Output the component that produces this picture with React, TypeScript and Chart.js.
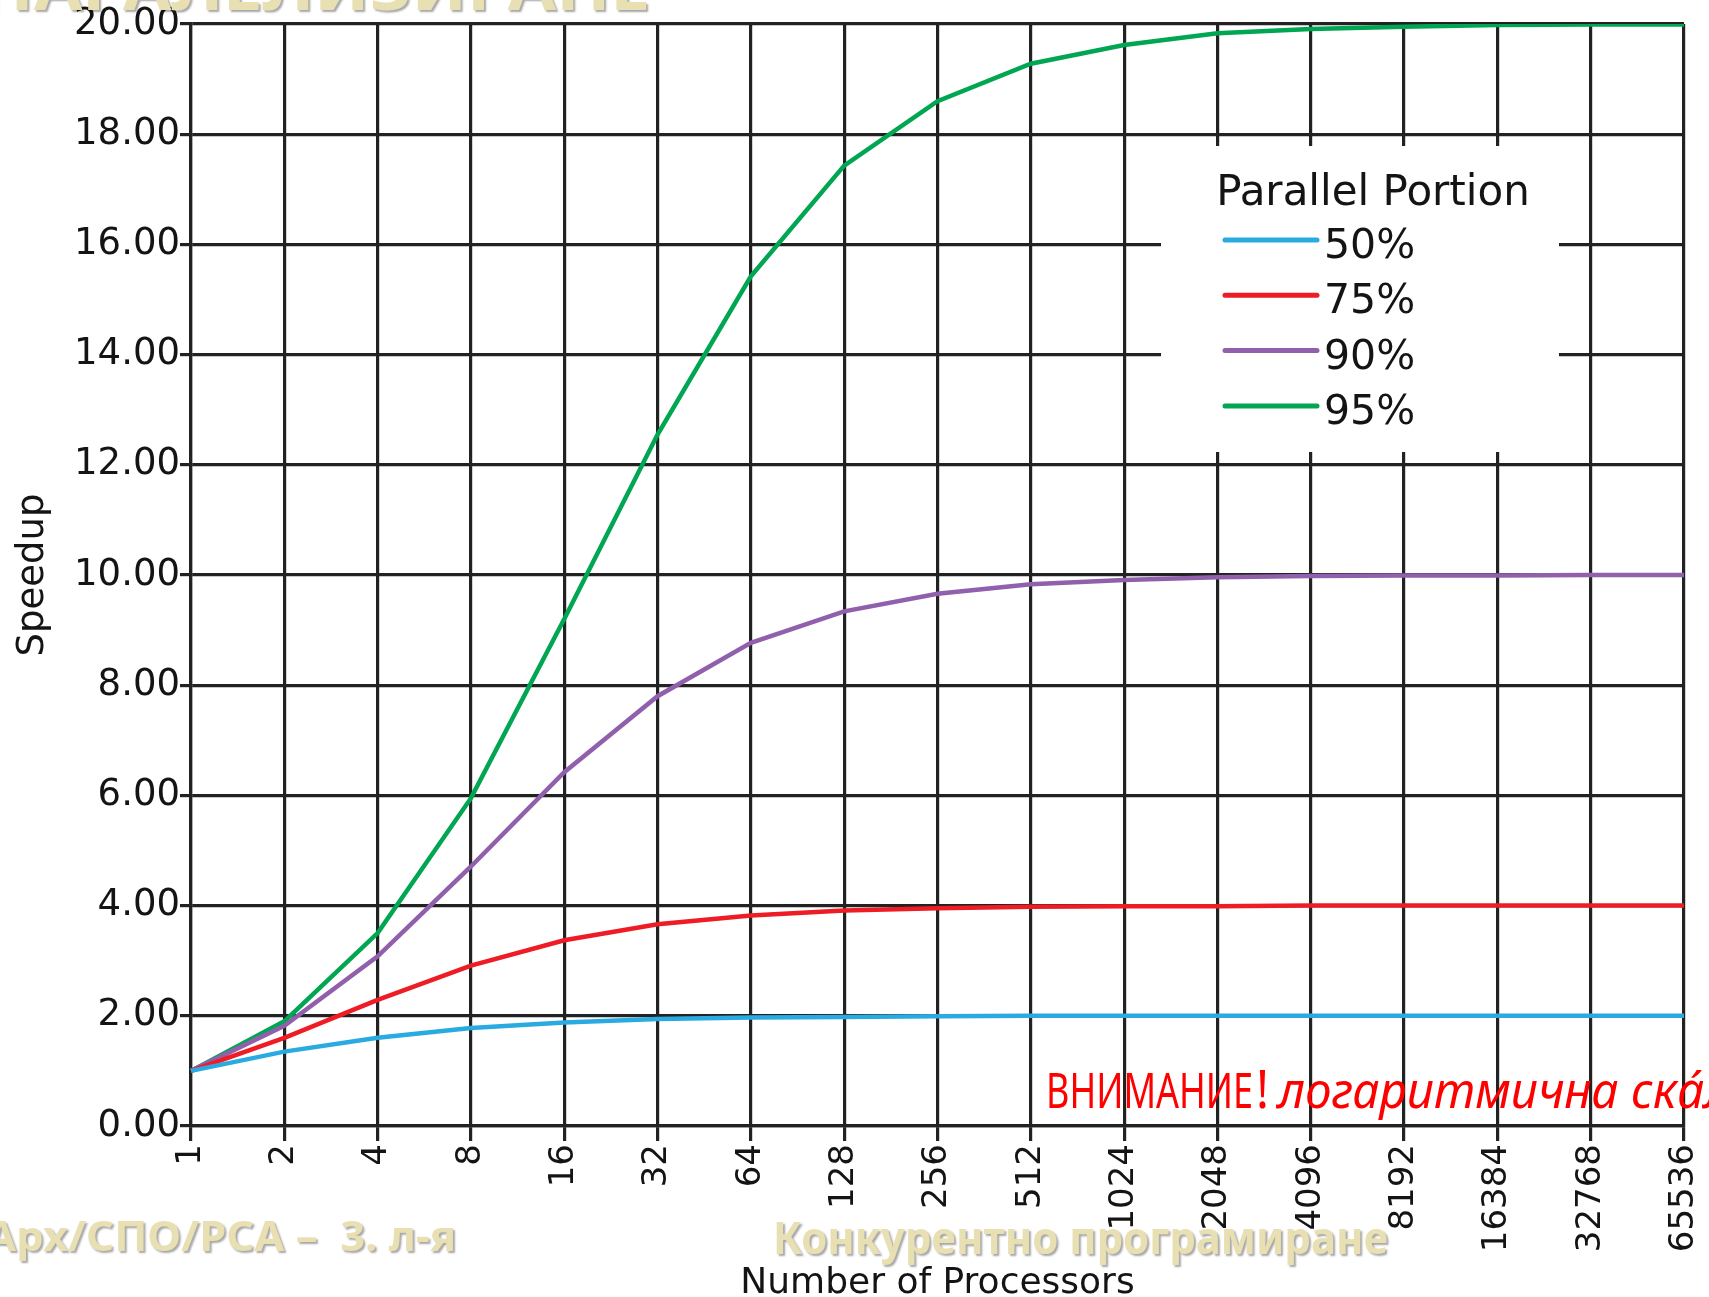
import React, { useEffect, useRef } from "react";
import { Chart, registerables } from "chart.js";

Chart.register(...registerables);

// ---- data ----
const processors = ["1", "2", "4", "8", "16", "32", "64", "128", "256", "512", "1024", "2048", "4096", "8192", "16384", "32768", "65536"];
const speedup50 = [1.0, 1.35, 1.6, 1.78, 1.88, 1.94, 1.97, 1.98, 1.99, 2.0, 2.0, 2.0, 2.0, 2.0, 2.0, 2.0, 2.0];
const speedup75 = [1.0, 1.6, 2.29, 2.91, 3.37, 3.66, 3.82, 3.91, 3.95, 3.98, 3.99, 3.99, 4.0, 4.0, 4.0, 4.0, 4.0];
const speedup90 = [1.0, 1.82, 3.08, 4.71, 6.42, 7.8, 8.77, 9.34, 9.66, 9.83, 9.91, 9.96, 9.98, 9.99, 9.99, 10.0, 10.0];
const speedup95 = [1.0, 1.9, 3.5, 5.95, 9.2, 12.55, 15.42, 17.43, 18.6, 19.28, 19.62, 19.83, 19.91, 19.95, 19.98, 19.99, 19.99];

const seriesLabels = ["50%", "75%", "90%", "95%"];
const seriesColors = ["#29abe2", "#ee1c25", "#9060ad", "#00a651"];

const yMin = 0;
const yMax = 20;
const yStep = 2;

const legendTitle = "Parallel Portion";
const xTitle = "Number of Processors";
const yTitle = "Speedup";

const slideTitle = "ПАРАЛЕЛИЗИРАНЕ";
const footerLeft = "Арх/СПО/РСА –  3. л-я";
const footerCenter = "Конкурентно програмиране";
const noteUpright = "ВНИМАНИЕ";
const noteBang = "!";
const noteItalic = "логаритмична скáла";

const INK = "#141414";
const GRID = "#222222";
const BEIGE = "#e8e0b2";

function drawFit(ctx: CanvasRenderingContext2D, text: string, font: string, x: number, baseline: number, width: number, color: string, shadow: boolean) {
  ctx.save();
  ctx.font = font;
  ctx.textAlign = "left";
  ctx.textBaseline = "alphabetic";
  const w = ctx.measureText(text).width;
  const sx = width / w;
  ctx.translate(x, baseline);
  ctx.scale(sx, 1);
  if (shadow) {
    ctx.shadowColor = "rgba(0,0,0,0.35)";
    ctx.shadowOffsetX = 2;
    ctx.shadowOffsetY = 2;
    ctx.shadowBlur = 2;
  }
  ctx.fillStyle = color;
  ctx.fillText(text, 0, 0);
  ctx.restore();
}

const legendPlugin = {
  id: "insideLegend",
  afterDraw(chart: any) {
    const ctx: CanvasRenderingContext2D = chart.ctx;
    ctx.save();
    ctx.fillStyle = "#ffffff";
    ctx.fillRect(1161, 146, 398, 306);
    ctx.fillStyle = INK;
    ctx.font = '42px "DejaVu Sans"';
    ctx.textAlign = "center";
    ctx.textBaseline = "alphabetic";
    ctx.fillText(legendTitle, 1373, 205);
    chart.data.datasets.forEach((ds: any, i: number) => {
      const y = 240 + i * 55.3;
      ctx.strokeStyle = ds.borderColor;
      ctx.lineWidth = 5;
      ctx.lineCap = "round";
      ctx.beginPath();
      ctx.moveTo(1225, y);
      ctx.lineTo(1317, y);
      ctx.stroke();
      ctx.fillStyle = INK;
      ctx.font = '41px "DejaVu Sans"';
      ctx.textAlign = "left";
      ctx.fillText(ds.label, 1324, y + 18);
    });
    ctx.restore();

    // slide overlay texts
    drawFit(ctx, slideTitle, 'bold 62px "Noto Sans"', -20, 10, 670, BEIGE, true);
    drawFit(ctx, footerLeft, 'bold 41px "Noto Sans"', -14, 1251, 470, BEIGE, true);
    drawFit(ctx, footerCenter, 'bold 45px "Noto Sans"', 773, 1254, 615, BEIGE, true);
    drawFit(ctx, noteUpright, '50px "Noto Sans"', 1046, 1108, 207, "#ff0000", false);
    drawFit(ctx, noteBang, '52px "Noto Sans"', 1256, 1108, 13, "#ff0000", false);
    drawFit(ctx, noteItalic, 'italic 50px "Noto Sans"', 1278, 1108, 480, "#ff0000", false);
  },
};

export default function App() {
  const ref = useRef<HTMLCanvasElement>(null);
  useEffect(() => {
    document.body.style.margin = "0";
    const canvas = ref.current!;
    const datasets = [speedup50, speedup75, speedup90, speedup95].map((d, i) => ({
      label: seriesLabels[i],
      data: d,
      borderColor: seriesColors[i],
      backgroundColor: seriesColors[i],
      borderWidth: 4.5,
      pointRadius: 0,
      tension: 0,
      fill: false,
    }));
    const chart = new Chart(canvas, {
      type: "line",
      data: { labels: processors, datasets },
      plugins: [legendPlugin],
      options: {
        animation: false,
        responsive: false,
        devicePixelRatio: 1,
        layout: { padding: { left: 0, top: 24, right: 25, bottom: 0 } },
        plugins: { legend: { display: false }, tooltip: { enabled: false } },
        scales: {
          x: {
            type: "category",
            offset: false,
            grid: { color: GRID, lineWidth: 3.2, tickLength: 15, drawTicks: true },
            border: { color: GRID, width: 3.2 },
            ticks: {
              autoSkip: false,
              maxRotation: 90,
              minRotation: 90,
              padding: 3,
              color: INK,
              font: { family: '"DejaVu Sans"', size: 34 },
            },
            title: {
              display: true,
              text: xTitle,
              color: INK,
              font: { family: '"DejaVu Sans"', size: 36, lineHeight: 0.75 },
              padding: 0,
            },
            afterFit: (s: any) => {
              s.height = 171;
              s.paddingRight = 0;
              s.paddingLeft = 0;
            },
          },
          y: {
            min: yMin,
            max: yMax,
            grid: { color: GRID, lineWidth: 3.2, tickLength: 11, drawTicks: true },
            border: { color: GRID, width: 3.2 },
            ticks: {
              stepSize: yStep,
              padding: 0,
              color: INK,
              font: { family: '"DejaVu Sans"', size: 37 },
              callback: (v: any) => Number(v).toFixed(2),
            },
            title: {
              display: true,
              text: yTitle,
              color: INK,
              font: { family: '"DejaVu Sans"', size: 37, lineHeight: 1.2 },
              padding: { top: 11, bottom: 0 },
            },
            afterFit: (s: any) => {
              s.width = 191;
            },
          },
        },
      },
    } as any);
    return () => chart.destroy();
  }, []);
  return (
    <div style={{ position: "absolute", left: 0, top: 0, width: 1709, height: 1297, background: "#fff", overflow: "hidden" }}>
      <canvas ref={ref} width={1709} height={1297} style={{ display: "block", width: 1709, height: 1297, filter: "blur(0.6px)" }} />
    </div>
  );
}
